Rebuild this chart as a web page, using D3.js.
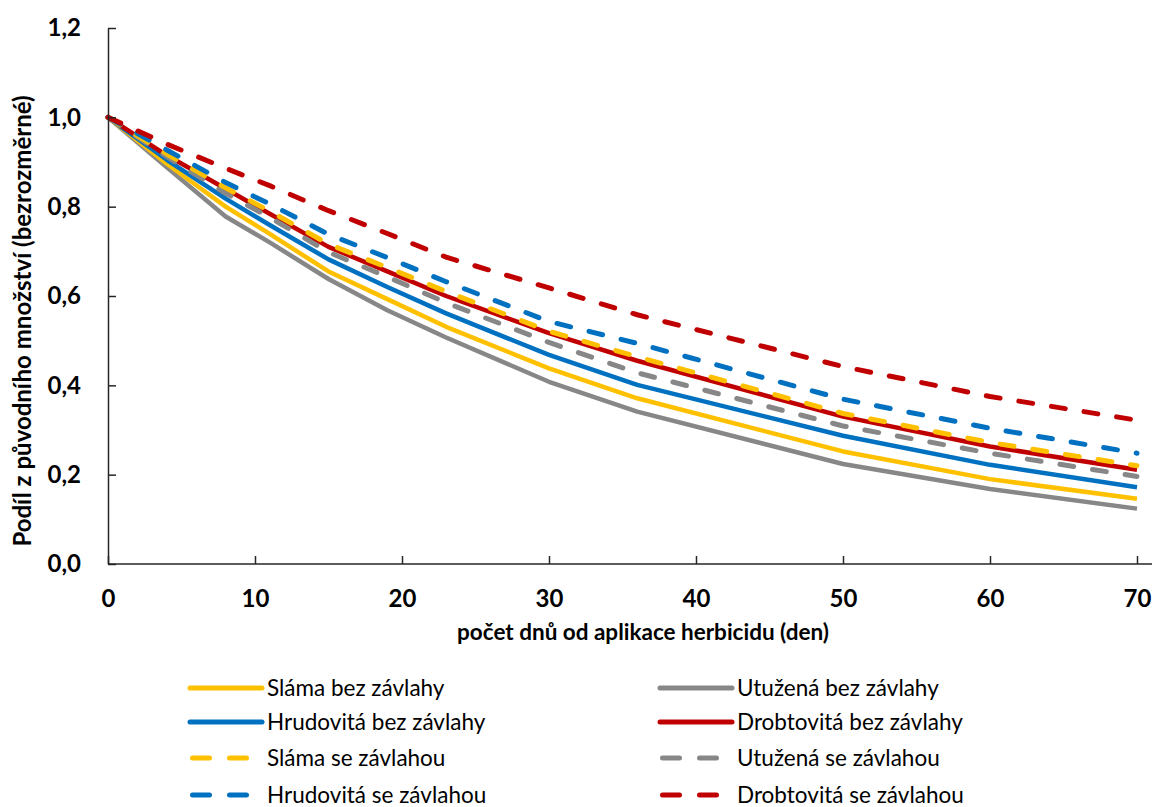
<!DOCTYPE html>
<html>
<head>
<meta charset="utf-8">
<script src="https://cdn.jsdelivr.net/npm/d3@7.9.0/dist/d3.min.js"></script>
<style>
  body { margin: 0; background: #fff; }
  svg text { font-family: Lato, "Open Sans", sans-serif; fill: #000; }
</style>
</head>
<body>
<div id="chart"></div>
<script>
// days after herbicide application
const days = [0, 4, 8, 11, 15, 19, 23, 30, 36, 50, 60, 70];

// share of original amount
const slamaBez = [1.0, 0.896, 0.80, 0.739, 0.655, 0.593, 0.531, 0.438, 0.371, 0.252, 0.190, 0.146];
const utuzenaBez = [1.0, 0.888, 0.778, 0.72, 0.638, 0.568, 0.507, 0.408, 0.341, 0.224, 0.168, 0.124];
const hrudovitaBez = [1.0, 0.905, 0.818, 0.759, 0.682, 0.62, 0.561, 0.468, 0.401, 0.287, 0.222, 0.172];
const drobtovitaBez = [1.0, 0.915, 0.840, 0.784, 0.710, 0.655, 0.600, 0.517, 0.455, 0.330, 0.263, 0.211];
const slamaSe = [1.0, 0.918, 0.842, 0.790, 0.716, 0.664, 0.610, 0.521, 0.464, 0.337, 0.272, 0.220];
const utuzenaSe = [1.0, 0.912, 0.830, 0.776, 0.698, 0.643, 0.585, 0.496, 0.428, 0.309, 0.248, 0.196];
const hrudovitaSe = [1.0, 0.927, 0.854, 0.806, 0.738, 0.686, 0.632, 0.543, 0.494, 0.369, 0.304, 0.248];
const drobtovitaSe = [1.0, 0.94, 0.886, 0.847, 0.791, 0.74, 0.687, 0.618, 0.558, 0.442, 0.375, 0.322];

const seriesNames = ["Sláma bez závlahy", "Utužená bez závlahy", "Hrudovitá bez závlahy", "Drobtovitá bez závlahy",
    "Sláma se závlahou", "Utužená se závlahou", "Hrudovitá se závlahou", "Drobtovitá se závlahou"];
const seriesValues = [slamaBez, utuzenaBez, hrudovitaBez, drobtovitaBez, slamaSe, utuzenaSe, hrudovitaSe, drobtovitaSe];
const seriesColors = ["#FFC000", "#878787", "#0070C0", "#C00000", "#FFC000", "#878787", "#0070C0", "#C00000"];
const seriesDashed = [false, false, false, false, true, true, true, true];

const xTicks = [0, 10, 20, 30, 40, 50, 60, 70];
const yTicks = [0, 0.2, 0.4, 0.6, 0.8, 1.0, 1.2];

const width = 1154;
const height = 807;
const margin = { top: 28, right: 16, bottom: 243, left: 108 };

const svg = d3.select("#chart").append("svg")
    .attr("width", width)
    .attr("height", height);

const xScale = d3.scaleLinear().domain([0, 70]).range([margin.left, 1137]);
const yScale = d3.scaleLinear().domain([0, 1.2]).range([height - margin.bottom, margin.top]);

const line = d3.line()
    .x((d, i) => xScale(days[i]))
    .y(d => yScale(d));

const drawOrder = [1, 0, 2, 3, 5, 4, 6, 7];
drawOrder.forEach(k => {
    svg.append("path")
        .attr("d", line(seriesValues[k]))
        .attr("fill", "none")
        .attr("stroke", seriesColors[k])
        .attr("stroke-width", seriesDashed[k] ? 5 : 4.5)
        .attr("stroke-linecap", seriesDashed[k] ? "round" : "butt")
        .attr("stroke-linejoin", "round")
        .attr("stroke-dasharray", seriesDashed[k] ? "14,19" : null);
});

// axes
const xAxis = svg.append("g")
    .attr("transform", "translate(0," + yScale(0) + ")")
    .call(d3.axisBottom(xScale).tickValues(xTicks).tickSize(-8).tickSizeOuter(0).tickPadding(26));
xAxis.select(".domain").attr("d", "M" + margin.left + ",0H1152");
const yAxis = svg.append("g")
    .attr("transform", "translate(" + margin.left + ",0)")
    .call(d3.axisLeft(yScale).tickValues(yTicks).tickSize(-8).tickSizeOuter(0).tickPadding(27)
        .tickFormat(d => d3.format(".1f")(d).replace(".", ",")));

svg.selectAll(".domain, .tick line")
    .attr("stroke", "#262626")
    .attr("stroke-width", 1.5);
svg.selectAll(".tick text")
    .style("font-size", "24px")
    .style("font-weight", "bold")
    .attr("fill", "#000");

// axis titles
svg.append("text")
    .attr("x", 643)
    .attr("y", 640)
    .attr("text-anchor", "middle")
    .style("font-size", "22.5px")
    .style("font-weight", "bold")
    .text("počet dnů od aplikace herbicidu (den)");

svg.append("text")
    .attr("transform", "rotate(-90)")
    .attr("x", -321)
    .attr("y", 31)
    .attr("text-anchor", "middle")
    .style("font-size", "24px")
    .style("font-weight", "bold")
    .text("Podíl z původního množství (bezrozměrné)");

// legend
const legendCols = [190, 660];
const legendRows = [688, 722, 758, 795];
seriesNames.forEach((name, k) => {
    const col = legendCols[k % 2];
    const row = legendRows[Math.floor(k / 2)];
    const g = svg.append("g");
    if (seriesDashed[k]) {
        g.append("line")
            .attr("x1", col + 2.5).attr("x2", col + 57)
            .attr("y1", row).attr("y2", row)
            .attr("stroke", seriesColors[k])
            .attr("stroke-width", 5)
            .attr("stroke-linecap", "round")
            .attr("stroke-dasharray", "17,20");
    } else {
        g.append("line")
            .attr("x1", col).attr("x2", col + 72)
            .attr("y1", row).attr("y2", row)
            .attr("stroke", seriesColors[k])
            .attr("stroke-width", 5)
            .attr("stroke-linecap", "round");
    }
    g.append("text")
        .attr("x", col + 77)
        .attr("y", row)
        .attr("dy", "0.35em")
        .style("font-size", "22.5px")
        .text(name);
});
</script>
</body>
</html>
